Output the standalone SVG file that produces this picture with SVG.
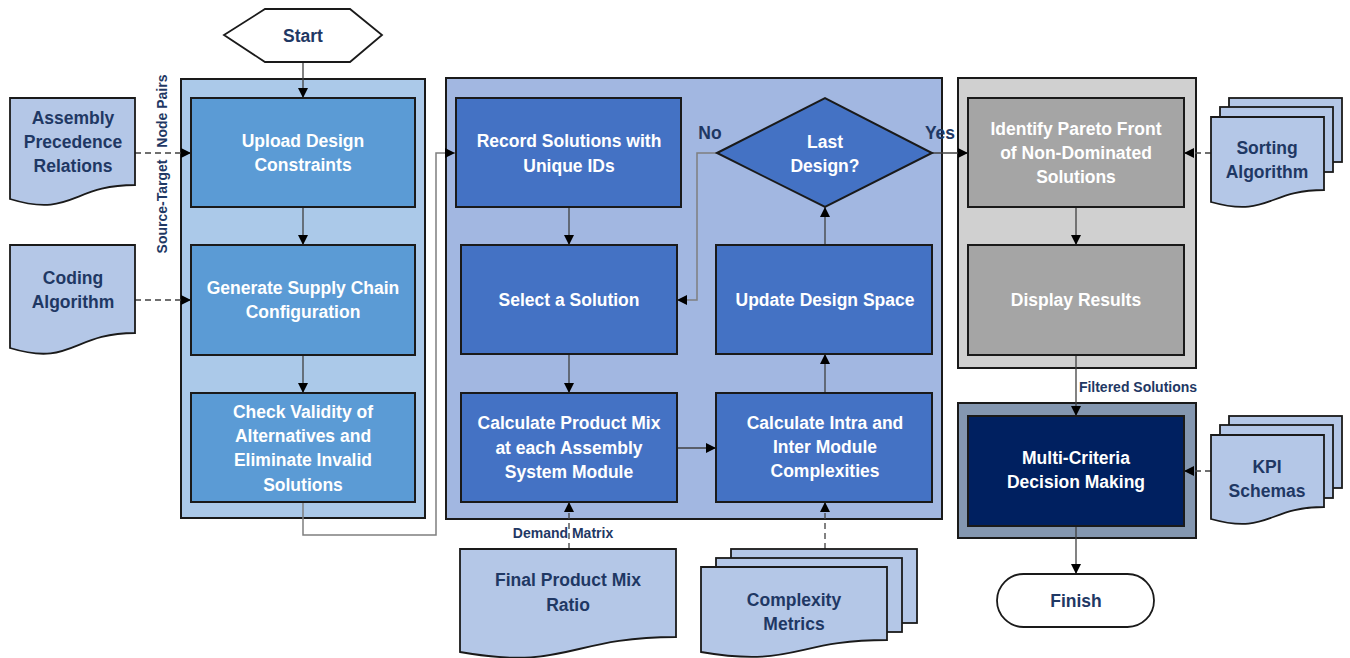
<svg xmlns="http://www.w3.org/2000/svg" width="1350" height="658" viewBox="0 0 1350 658">
<style>
text{font-family:"Liberation Sans",Arial,sans-serif;font-weight:bold;text-anchor:middle}
.w{fill:#ffffff;font-size:17.5px}
.d{fill:#1f3864;font-size:17.5px}
.s{fill:#1f3864;font-size:14px}
.cont{stroke:#1a1a1a;stroke-width:2}
.box{stroke:#1a1a1a;stroke-width:2}
.doc{fill:#b4c7e7;stroke:#1a1a1a;stroke-width:1.8}
.ln{fill:none;stroke:#404040;stroke-width:1.3}
.gl{fill:none;stroke:#7f7f7f;stroke-width:1.5}
.ds{fill:none;stroke:#404040;stroke-width:1.3;stroke-dasharray:6 4}
</style>
<defs>
<marker id="ah" viewBox="0 0 10 10" refX="10" refY="5" markerWidth="10" markerHeight="10" markerUnits="userSpaceOnUse" orient="auto">
<path d="M0,0 L10,5 L0,10 Z" fill="#000"/>
</marker>
</defs>

<!-- containers -->
<g id="container-left"><rect class="cont" x="181" y="79" width="244" height="439" fill="#abc9e9"/></g>
<g id="container-mid"><rect class="cont" x="446" y="78" width="496" height="441" fill="#a2b7e1"/></g>
<g id="container-right"><rect class="cont" x="958" y="78" width="238" height="290" fill="#d0d0d0"/></g>
<g id="container-mcdm"><rect class="cont" x="958" y="403" width="238" height="135" fill="#8497b0"/></g>

<!-- connectors -->
<g id="connectors">
<line class="ln" x1="303" y1="62" x2="303" y2="98" marker-end="url(#ah)"/>
<line class="ln" x1="303" y1="207" x2="303" y2="245" marker-end="url(#ah)"/>
<line class="ln" x1="303" y1="355" x2="303" y2="393" marker-end="url(#ah)"/>
<polyline class="gl" points="303,502 303,535 436,535 436,153 455,153" marker-end="url(#ah)"/>
<line class="ds" x1="135" y1="153" x2="191" y2="153" marker-end="url(#ah)"/>
<line class="ds" x1="135" y1="300" x2="191" y2="300" marker-end="url(#ah)"/>
<line class="ln" x1="569" y1="207" x2="569" y2="245" marker-end="url(#ah)"/>
<line class="ln" x1="569" y1="354" x2="569" y2="393" marker-end="url(#ah)"/>
<line class="ln" x1="677" y1="448" x2="716" y2="448" marker-end="url(#ah)"/>
<line class="ln" x1="825" y1="393" x2="825" y2="354" marker-end="url(#ah)"/>
<line class="ln" x1="825" y1="245" x2="825" y2="207" marker-end="url(#ah)"/>
<polyline class="gl" points="717,153 697,153 697,300 677,300" marker-end="url(#ah)"/>
<line class="ln" x1="932" y1="153" x2="968" y2="153" marker-end="url(#ah)"/>
<line class="ds" x1="569" y1="549" x2="569" y2="502" marker-end="url(#ah)"/>
<line class="ds" x1="825" y1="549" x2="825" y2="502" marker-end="url(#ah)"/>
<line class="ln" x1="1076" y1="207" x2="1076" y2="245" marker-end="url(#ah)"/>
<line class="ln" x1="1076" y1="355" x2="1076" y2="416" marker-end="url(#ah)"/>
<line class="ds" x1="1211" y1="153" x2="1184" y2="153" marker-end="url(#ah)"/>
<line class="ds" x1="1211" y1="471" x2="1184" y2="471" marker-end="url(#ah)"/>
<line class="ln" x1="1076" y1="526" x2="1076" y2="574" marker-end="url(#ah)"/>
<text class="s" x="563" y="538">Demand Matrix</text>
<text class="s" x="1138" y="392">Filtered Solutions</text>
<text class="d" x="710" y="139">No</text>
<text class="d" x="940" y="139">Yes</text>
<text class="s" transform="translate(167,164) rotate(-90)">Source-Target<tspan dx="8"> Node Pairs</tspan></text>
</g>

<!-- nodes -->
<g id="start">
<polygon points="224,35 265,9 350,9 382,35 350,62 265,62" fill="#fff" stroke="#1a1a1a" stroke-width="1.8"/>
<text class="d" x="303" y="42">Start</text>
</g>

<g id="doc-assembly">
<path class="doc" d="M10,98 H135 V185 C72,185 72,218 10,199 Z"/>
<text class="d" x="73" y="124">Assembly</text>
<text class="d" x="73" y="148">Precedence</text>
<text class="d" x="73" y="172">Relations</text>
</g>

<g id="doc-coding">
<path class="doc" d="M10,245 H135 V333 C72,333 72,367 10,348 Z"/>
<text class="d" x="73" y="284">Coding</text>
<text class="d" x="73" y="308">Algorithm</text>
</g>

<g id="upload">
<rect class="box" x="191" y="98" width="224" height="109" fill="#5b9bd5"/>
<text class="w" x="303" y="147">Upload Design</text>
<text class="w" x="303" y="171">Constraints</text>
</g>

<g id="generate">
<rect class="box" x="191" y="245" width="224" height="110" fill="#5b9bd5"/>
<text class="w" x="303" y="294">Generate Supply Chain</text>
<text class="w" x="303" y="318">Configuration</text>
</g>

<g id="check">
<rect class="box" x="191" y="393" width="224" height="109" fill="#5b9bd5"/>
<text class="w" x="303" y="418">Check Validity of</text>
<text class="w" x="303" y="442">Alternatives and</text>
<text class="w" x="303" y="466">Eliminate Invalid</text>
<text class="w" x="303" y="491">Solutions</text>
</g>

<g id="record">
<rect class="box" x="456" y="98" width="225" height="109" fill="#4472c4"/>
<text class="w" x="569" y="147">Record Solutions with</text>
<text class="w" x="569" y="172">Unique IDs</text>
</g>

<g id="select">
<rect class="box" x="461" y="245" width="216" height="109" fill="#4472c4"/>
<text class="w" x="569" y="306">Select a Solution</text>
</g>

<g id="calc-mix">
<rect class="box" x="461" y="393" width="216" height="109" fill="#4472c4"/>
<text class="w" x="569" y="429">Calculate Product Mix</text>
<text class="w" x="569" y="454">at each Assembly</text>
<text class="w" x="569" y="478">System Module</text>
</g>

<g id="calc-intra">
<rect class="box" x="716" y="393" width="216" height="109" fill="#4472c4"/>
<text class="w" x="825" y="429">Calculate Intra and</text>
<text class="w" x="825" y="453">Inter Module</text>
<text class="w" x="825" y="477">Complexities</text>
</g>

<g id="update">
<rect class="box" x="716" y="245" width="216" height="109" fill="#4472c4"/>
<text class="w" x="825" y="306">Update Design Space</text>
</g>

<g id="last-design">
<polygon points="717,153 825,98 932,153 825,207" fill="#4472c4" stroke="#1a1a1a" stroke-width="2"/>
<text class="w" x="825" y="148">Last</text>
<text class="w" x="825" y="172">Design?</text>
</g>

<g id="doc-final-mix">
<path class="doc" d="M460,549 H676 V637 C568,637 568,671 460,652 Z"/>
<text class="d" x="568" y="586">Final Product Mix</text>
<text class="d" x="568" y="611">Ratio</text>
</g>

<g id="doc-complexity">
<rect class="doc" x="731" y="549" width="186" height="74"/>
<rect class="doc" x="716" y="558" width="186" height="74"/>
<path class="doc" d="M701,567 H887 V640 C794,640 794,668 701,652 Z"/>
<text class="d" x="794" y="606">Complexity</text>
<text class="d" x="794" y="630">Metrics</text>
</g>

<g id="pareto">
<rect class="box" x="968" y="98" width="216" height="109" fill="#a5a5a5"/>
<text class="w" x="1076" y="135">Identify Pareto Front</text>
<text class="w" x="1076" y="159">of Non-Dominated</text>
<text class="w" x="1076" y="183">Solutions</text>
</g>

<g id="display">
<rect class="box" x="968" y="245" width="216" height="110" fill="#a5a5a5"/>
<text class="w" x="1076" y="306">Display Results</text>
</g>

<g id="doc-sorting">
<rect class="doc" x="1229" y="98" width="113" height="64"/>
<rect class="doc" x="1220" y="107" width="113" height="65"/>
<path class="doc" d="M1211,117 H1324 V190 C1268,190 1268,218 1211,202 Z"/>
<text class="d" x="1267" y="154">Sorting</text>
<text class="d" x="1267" y="178">Algorithm</text>
</g>

<g id="mcdm">
<rect class="box" x="968" y="416" width="216" height="110" fill="#002060"/>
<text class="w" x="1076" y="464">Multi-Criteria</text>
<text class="w" x="1076" y="488">Decision Making</text>
</g>

<g id="doc-kpi">
<rect class="doc" x="1229" y="416" width="113" height="72"/>
<rect class="doc" x="1220" y="425" width="113" height="73"/>
<path class="doc" d="M1211,435 H1324 V507 C1268,507 1268,535 1211,519 Z"/>
<text class="d" x="1267" y="473">KPI</text>
<text class="d" x="1267" y="497">Schemas</text>
</g>

<g id="finish">
<rect x="997" y="574" width="157" height="53" rx="26.5" fill="#fff" stroke="#1a1a1a" stroke-width="1.8"/>
<text class="d" x="1076" y="607">Finish</text>
</g>
</svg>
